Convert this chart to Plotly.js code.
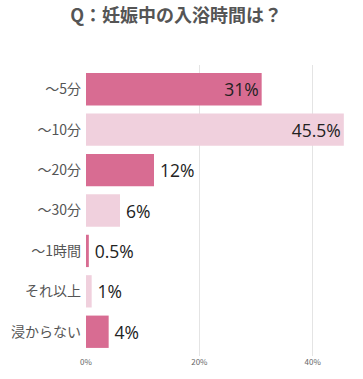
<!DOCTYPE html>
<html><head><meta charset="utf-8">
<script src="https://cdn.plot.ly/plotly-3.0.1.min.js"></script>
<style>html,body{margin:0;padding:0;background:#fff}#c{width:363px;height:379px}</style>
</head><body><div id="c"></div>
<script>
const categories = ["～5分","～10分","～20分","～30分","～1時間","それ以上","浸からない"];
const values = [31, 45.5, 12, 6, 0.5, 1, 4];
const labels = ["31%","45.5%","12%","6%","0.5%","1%","4%"];
const barColors = ["#d86c92","#f0d0dd","#d86c92","#f0d0dd","#d86c92","#f0d0dd","#d86c92"];
const positions = ["inside","inside","outside","outside","outside","outside","outside"];
const tickVals = [0,20,40];
const tickText = ["0%","20%","40%"];

const templates = positions.map(p => p === "inside" ? "%{text}" : "\u2009%{text}");

Plotly.newPlot("c", [{
  type: "bar", orientation: "h",
  y: categories, x: values, text: labels, texttemplate: templates,
  textposition: positions, insidetextanchor: "end",
  constraintext: "none", cliponaxis: false,
  textfont: {size: 17.5, color: "#222", family: "Open Sans, sans-serif"},
  marker: {color: barColors},
  width: 0.8, hoverinfo: "none"
}], {
  width: 363, height: 379,
  margin: {l: 86, r: 5, t: 65, b: 23},
  paper_bgcolor: "#fff", plot_bgcolor: "#fff",
  font: {family: "Noto Sans CJK JP, sans-serif"},
  title: {text: "<b>Q：妊娠中の入浴時間は？</b>", x: 0.485, xanchor: "center", y: 0.958, yanchor: "middle",
          font: {size: 18, color: "#555"}},
  xaxis: {range: [0, 48], tickvals: tickVals, ticktext: tickText, showgrid: true, gridcolor: "#e4e4e4",
          zeroline: false, showline: false, tickfont: {size: 8, color: "#666"}, ticks: ""},
  yaxis: {range: [6.6, -0.6], type: "category", tickfont: {size: 14, color: "#555"}, ticks: "",
          showgrid: false, zeroline: false, ticklabelstandoff: 4},
  showlegend: false
}, {displayModeBar: false, staticPlot: true});
</script></body></html>
